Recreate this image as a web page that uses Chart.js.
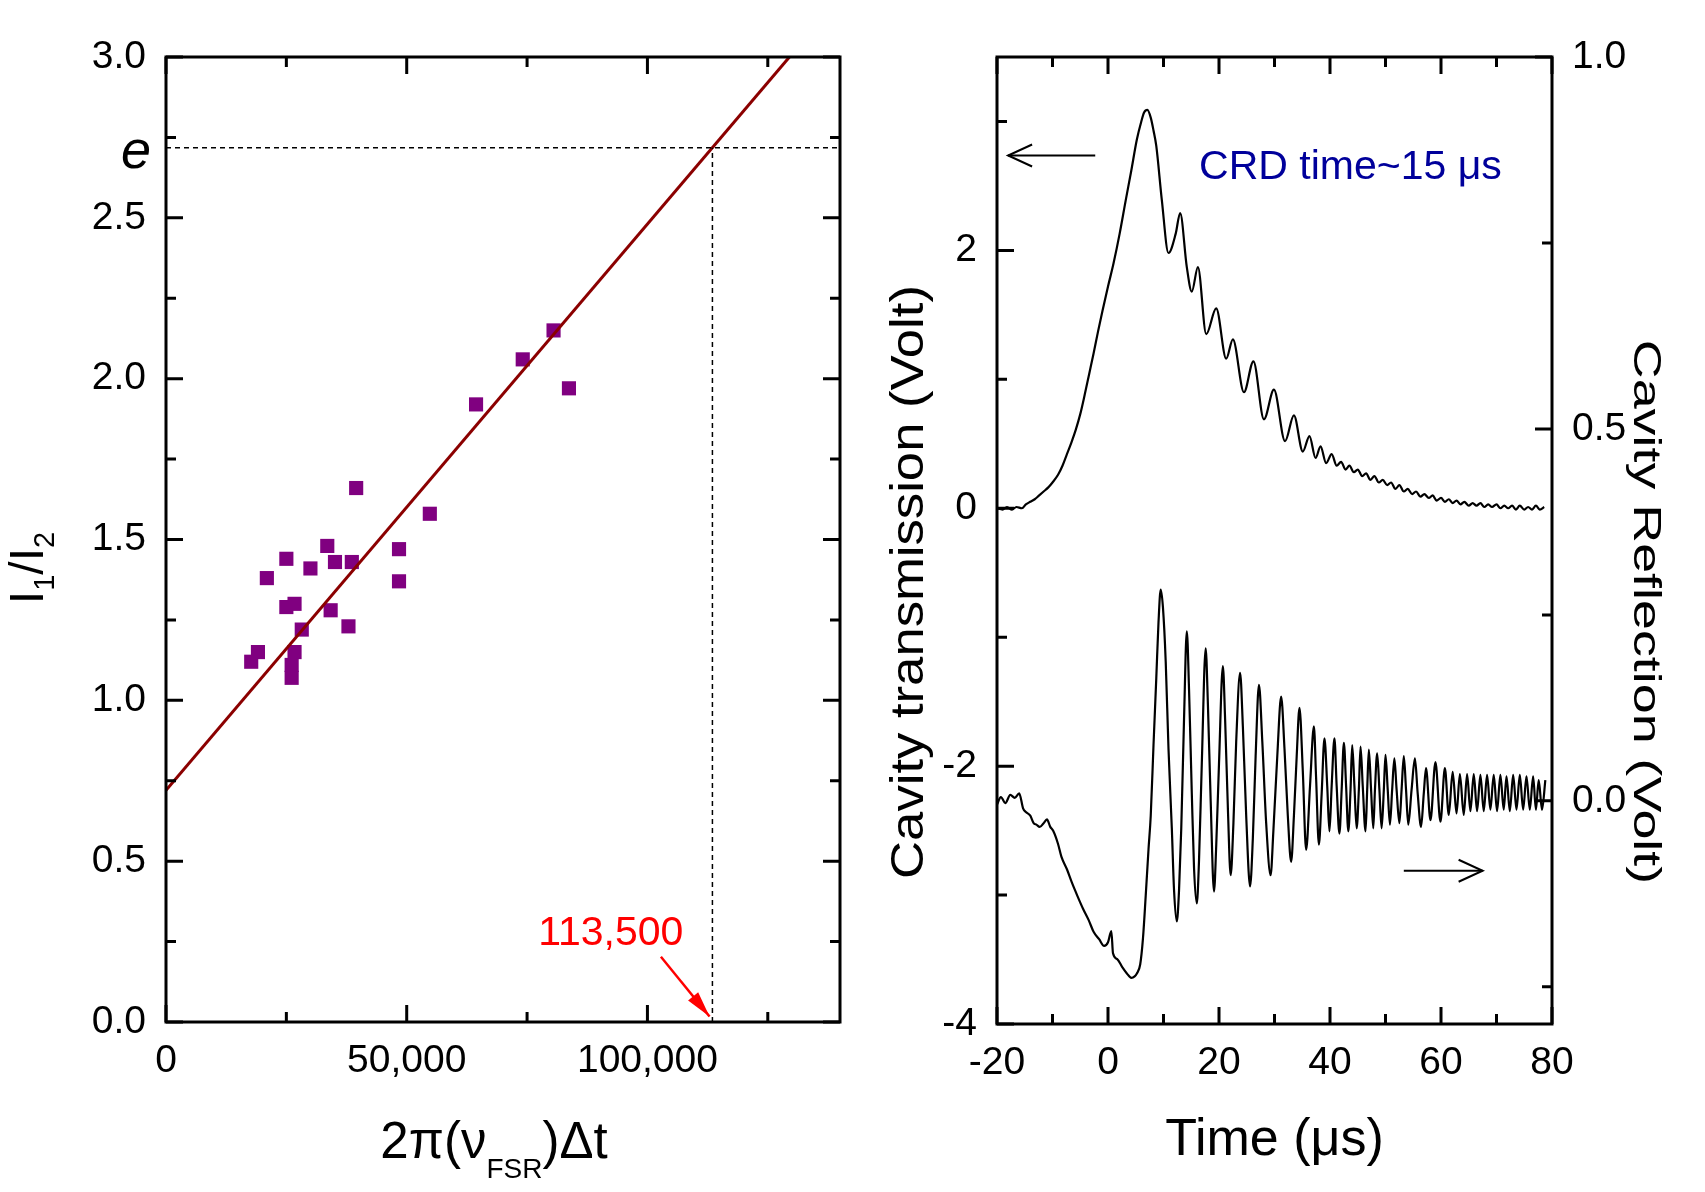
<!DOCTYPE html>
<html>
<head>
<meta charset="utf-8">
<title>Cavity ring-down</title>
<script src="https://cdn.jsdelivr.net/npm/chart.js@4.4.1/dist/chart.umd.min.js"></script>
<style>
  body { margin: 0; background: #fff; }
  canvas { position: absolute; top: 0; }
  #left { left: 0; }
  #right { left: 850px; }
</style>
</head>
<body>
<canvas id="left" width="850" height="1192"></canvas>
<canvas id="right" width="855" height="1192"></canvas>
<script>
// ---- left panel: intensity ratio vs 2*pi*nu_FSR*dt ----
const ratioX = [17700, 19100, 20950, 25000, 25000, 26700, 26700, 26100, 26100, 28200, 30000, 33500,
                35100, 34200, 38600, 37900, 39500, 48400, 48400, 54800, 64400, 74100, 80500, 83700];
const ratioY = [1.12, 1.15, 1.38, 1.44, 1.29, 1.30, 1.15, 1.11, 1.07, 1.22, 1.41, 1.48,
                1.43, 1.28, 1.43, 1.23, 1.66, 1.47, 1.37, 1.58, 1.92, 2.06, 2.15, 1.97];
const fitX = [0, 129500];
const fitY = [0.72, 3.0];
const eLineX = [0, 140000];
const eLineY = [2.718, 2.718];
const crossX = [113500, 113500];
const crossY = [0, 2.718];
const markArrowX = [102800, 112900];
const markArrowY = [0.203, 0.017];
const ratioXTicks = [0, 50000, 100000];
const ratioYTicks = [0, 0.5, 1.0, 1.5, 2.0, 2.5, 3.0];

// ---- right panel: transmission (left axis) and reflection (right axis) ----
const transT = [-20.0, -19.0, -18.2, -17.3, -16.5, -15.5, -14.8, -14.0, -13.2, -12.4, -11.6, -10.8,
  -10.0, -9.0, -8.2, -7.4, -6.6, -5.8, -5.0, -4.2, -3.4, -2.6, -1.8, -1.0, 0.0, 1.0, 2.1, 3.2, 4.2,
  5.2, 6.0, 6.5, 7.1, 7.7, 8.2, 8.7, 9.7, 10.9, 12.2, 13.0, 14.2, 15.1, 16.2, 17.7, 19.5, 21.3, 22.5,
  24.5, 26.2, 28.1, 29.9, 31.9, 33.5, 35.1, 36.3, 37.4, 38.3, 39.3, 40.3, 41.2, 42.0, 42.8, 43.5,
  44.3, 45.0, 45.8, 46.5, 47.3, 48.0, 48.8, 49.5, 50.3, 51.0, 51.8, 52.5, 53.3, 54.0, 54.8, 55.5,
  56.3, 57.0, 57.8, 58.5, 59.2, 60.0, 60.7, 61.4, 62.1, 62.8, 63.5, 64.2, 65.0, 65.7, 66.4, 67.1,
  67.8, 68.5, 69.2, 70.0, 70.7, 71.4, 72.1, 72.8, 73.5, 74.2, 75.0, 75.7, 76.4, 77.1, 77.8, 78.6];
const transV = [0.00, -0.01, 0.01, -0.01, 0.01, 0.00, 0.03, 0.05, 0.07, 0.10, 0.13, 0.16,
  0.20, 0.26, 0.33, 0.42, 0.51, 0.61, 0.73, 0.88, 1.04, 1.20, 1.37, 1.53, 1.72, 1.90, 2.13, 2.39, 2.62,
  2.86, 3.00, 3.07, 3.09, 3.03, 2.93, 2.81, 2.39, 1.98, 2.13, 2.29, 1.87, 1.68, 1.87, 1.35, 1.55, 1.16, 1.31,
  0.90, 1.14, 0.69, 0.92, 0.52, 0.72, 0.44, 0.56, 0.39, 0.48, 0.35, 0.42, 0.33, 0.36, 0.30, 0.33,
  0.28, 0.30, 0.25, 0.27, 0.22, 0.25, 0.20, 0.22, 0.18, 0.20, 0.15, 0.18, 0.13, 0.15, 0.11, 0.13,
  0.09, 0.11, 0.08, 0.10, 0.06, 0.08, 0.05, 0.07, 0.04, 0.06, 0.03, 0.05, 0.02, 0.04, 0.02, 0.04,
  0.01, 0.03, 0.01, 0.03, 0.00, 0.02, 0.00, 0.02, -0.01, 0.02, -0.01, 0.01, -0.01, 0.02, -0.01, 0.01];

const reflT = [-20.0, -19.3, -18.5, -17.6, -16.8, -16.0, -15.3, -14.8, -14.0, -13.4, -12.9, -12.3,
  -11.6, -11.0, -10.4, -9.9, -9.0, -8.4, -7.4, -6.5, -5.5, -4.5, -3.5, -2.6, -1.6, -0.7, 0.0, 0.6,
  0.9, 1.7, 2.6, 3.4, 4.2, 4.8, 5.2, 5.8, 6.3, 6.8, 7.3, 7.7, 8.2, 8.7, 9.1, 9.5, 9.9, 10.4, 10.9,
  11.5, 11.9, 12.4, 12.8, 13.2, 13.7, 14.2, 14.6, 15.1, 15.5, 16.0, 16.4, 16.9, 17.6, 18.0, 18.5,
  19.1, 19.5, 20.0, 20.7, 21.1, 21.6, 22.1, 22.6, 23.1, 23.8, 24.3, 24.9, 25.6, 26.1, 26.6, 27.2,
  27.8, 28.5, 29.3, 29.8, 30.5, 31.2, 31.8, 32.4, 33.0, 33.5, 34.0, 34.5, 35.1, 35.7, 36.4, 37.1,
  37.5, 38.0, 38.5, 39.0, 39.5, 39.9, 40.3, 40.8, 41.2, 41.7, 42.1, 42.5, 42.9, 43.3, 43.7, 44.0,
  44.4, 44.8, 45.2, 45.5, 45.9, 46.4, 46.7, 47.0, 47.4, 47.8, 48.1, 48.5, 48.9, 49.3, 49.7, 50.0,
  50.4, 50.8, 51.2, 51.6, 52.0, 52.5, 52.9, 53.3, 53.7, 54.1, 54.7, 55.3, 55.8, 56.4, 56.9, 57.3,
  58.1, 59.0, 59.9, 60.7, 61.4, 62.1, 62.8, 63.4, 64.1, 64.7, 65.3, 65.9, 66.5, 67.1, 67.7, 68.3,
  68.9, 69.5, 70.1, 70.7, 71.3, 71.8, 72.4, 73.0, 73.6, 74.2, 74.8, 75.4, 76.0, 76.6, 77.1, 77.6,
  78.2, 78.8];
const reflV = [-0.005, 0.005, -0.003, 0.008, 0.004, 0.010, -0.010, -0.015, -0.020, -0.030, -0.032, -0.035,
  -0.030, -0.025, -0.035, -0.040, -0.058, -0.075, -0.092, -0.110, -0.128, -0.145, -0.160, -0.176, -0.186, -0.195, -0.190, -0.175,
  -0.205, -0.213, -0.224, -0.232, -0.238, -0.236, -0.232, -0.220, -0.185, -0.127, -0.065, -0.020, 0.075, 0.165, 0.240, 0.284, 0.260, 0.187, 0.070,
  -0.037, -0.120, -0.162, -0.120, -0.037, 0.110, 0.228, 0.150, 0.010, -0.090, -0.138, -0.080, 0.050, 0.205, 0.130, 0.000,
  -0.122, -0.060, 0.050, 0.181, 0.110, -0.010, -0.100, -0.030, 0.080, 0.172, 0.100, -0.020, -0.115, -0.050, 0.060, 0.156,
  0.080, -0.030, -0.100, -0.040, 0.060, 0.140, 0.070, -0.020, -0.082, -0.020, 0.060, 0.125, 0.040, -0.066, 0.020, 0.100,
  0.030, -0.059, 0.010, 0.084, 0.020, -0.041, 0.020, 0.084, 0.020, -0.044, 0.015, 0.078, 0.020, -0.041, 0.015, 0.075,
  0.020, -0.037, 0.015, 0.073, 0.020, -0.041, 0.015, 0.069, 0.015, -0.037, 0.015, 0.064, 0.015, -0.037, 0.015, 0.062,
  0.015, -0.032, 0.015, 0.057, 0.015, -0.030, 0.015, 0.060, 0.015, -0.032, 0.015, 0.057, 0.010, -0.035, 0.010, 0.044,
  -0.026, 0.052, -0.028, 0.044, -0.019, 0.039, -0.017, 0.036, -0.019, 0.036, -0.014, 0.036, -0.014, 0.035, -0.014, 0.035,
  -0.012, 0.035, -0.014, 0.035, -0.012, 0.033, -0.014, 0.035, -0.012, 0.035, -0.012, 0.033, -0.012, 0.033, -0.012, 0.028,
  -0.012, 0.028];
const transArrowT = [-2.3, -18.0];
const transArrowV = [2.736, 2.736];
const reflArrowT = [53.3, 67.5];
const reflArrowV = [-0.094, -0.094];
const timeTicks = [-20, 0, 20, 40, 60, 80];
const transTicks = [-4, -2, 0, 2];
const reflTicks = [0, 0.5, 1.0];

const FONT = "'Liberation Sans', Arial, Helvetica, sans-serif";

function pts(xs, ys) {
  return xs.map((x, i) => ({ x: x, y: ys[i] }));
}
function fixedTicks(values) {
  return axis => { axis.ticks = values.map(v => ({ value: v })); };
}

// text made of runs, so subscripts can be drawn; stretch widens along the reading direction
function drawRuns(ctx, runs, x, y, align, angle, stretch) {
  ctx.save();
  ctx.translate(x, y);
  ctx.rotate(angle || 0);
  ctx.scale(stretch || 1, 1);
  let total = 0;
  runs.forEach(r => {
    ctx.font = (r.style || '') + ' ' + r.size + 'px ' + FONT;
    r.w = ctx.measureText(r.text).width;
    total += r.w;
  });
  let cx = align === 'center' ? -total / 2 : align === 'right' ? -total : 0;
  ctx.textAlign = 'left';
  ctx.textBaseline = 'alphabetic';
  runs.forEach(r => {
    ctx.font = (r.style || '') + ' ' + r.size + 'px ' + FONT;
    ctx.fillStyle = r.color || '#000';
    ctx.fillText(r.text, cx, r.dy || 0);
    cx += r.w;
  });
  ctx.restore();
}

// frame, inward ticks, arrow heads and labels
function overlay(spec) {
  return {
    id: 'overlay',
    afterDatasetsDraw(chart) {
      const ctx = chart.ctx, a = chart.chartArea;
      ctx.save();
      ctx.strokeStyle = '#000';
      ctx.lineWidth = 3;
      ctx.strokeRect(a.left, a.top, a.right - a.left, a.bottom - a.top);
      ctx.beginPath();
      spec.ticks.forEach(t => {
        const s = chart.scales[t.scale];
        const start = Math.ceil(s.min / t.minor - 1e-9) * t.minor;
        const n = Math.floor((s.max - start) / t.minor + 1e-9);
        for (let i = 0; i <= n; i++) {
          const v = start + i * t.minor;
          const major = Math.abs(v / t.major - Math.round(v / t.major)) < 1e-6;
          const len = major ? 17 : 10;
          const p = s.getPixelForValue(v);
          t.sides.forEach(side => {
            if (side === 'left') { ctx.moveTo(a.left, p); ctx.lineTo(a.left + len, p); }
            if (side === 'right') { ctx.moveTo(a.right, p); ctx.lineTo(a.right - len, p); }
            if (side === 'bottom') { ctx.moveTo(p, a.bottom); ctx.lineTo(p, a.bottom - len); }
            if (side === 'top') { ctx.moveTo(p, a.top); ctx.lineTo(p, a.top + len); }
          });
        }
      });
      ctx.stroke();

      spec.arrows.forEach(ar => {
        const sx = chart.scales.x, sy = chart.scales[ar.yAxis];
        const x0 = sx.getPixelForValue(ar.xs[0]), y0 = sy.getPixelForValue(ar.ys[0]);
        const x1 = sx.getPixelForValue(ar.xs[1]), y1 = sy.getPixelForValue(ar.ys[1]);
        const ang = Math.atan2(y1 - y0, x1 - x0);
        ctx.save();
        ctx.translate(x1, y1);
        ctx.rotate(ang);
        ctx.strokeStyle = ar.color;
        ctx.fillStyle = ar.color;
        if (ar.filled) {
          ctx.beginPath();
          ctx.moveTo(0, 0);
          ctx.lineTo(-26, -6.5);
          ctx.lineTo(-26, 6.5);
          ctx.closePath();
          ctx.fill();
        } else {
          ctx.lineWidth = 2;
          ctx.beginPath();
          ctx.moveTo(-24, -11);
          ctx.lineTo(0, 0);
          ctx.lineTo(-24, 11);
          ctx.stroke();
        }
        ctx.restore();
      });

      spec.labels.forEach(l => {
        let x = l.x, y = l.y;
        if (l.data) {
          x = chart.scales.x.getPixelForValue(l.data[0]);
          y = chart.scales[l.yAxis].getPixelForValue(l.data[1]);
        }
        drawRuns(ctx, l.runs, x + (l.dx || 0), y + (l.dy || 0), l.align, l.angle, l.stretch);
      });
      ctx.restore();
    }
  };
}

const tickFont = { family: FONT, size: 39 };
const noGrid = { display: false, drawTicks: false };

new Chart(document.getElementById('left'), {
  type: 'scatter',
  data: {
    datasets: [
      { data: pts(eLineX, eLineY), showLine: true, borderColor: '#000', borderWidth: 1.5,
        borderDash: [5, 4], pointRadius: 0 },
      { data: pts(crossX, crossY), showLine: true, borderColor: '#000', borderWidth: 1.5,
        borderDash: [5, 4], pointRadius: 0 },
      { data: pts(fitX, fitY), showLine: true, borderColor: '#8b0000', borderWidth: 3, pointRadius: 0 },
      { data: pts(ratioX, ratioY), pointStyle: 'rect', pointRadius: 10, borderWidth: 0,
        backgroundColor: '#800080' },
      { data: pts(markArrowX, markArrowY), showLine: true, borderColor: '#ff0000', borderWidth: 2.5,
        pointRadius: 0 }
    ]
  },
  options: {
    responsive: false,
    animation: false,
    devicePixelRatio: 1,
    layout: { padding: { top: 57, right: 7 } },
    plugins: { legend: { display: false }, tooltip: { enabled: false } },
    scales: {
      x: {
        type: 'linear', position: 'bottom', min: 0, max: 140000,
        grid: noGrid, border: { display: false },
        afterBuildTicks: fixedTicks(ratioXTicks),
        afterFit: axis => { axis.height = 170; },
        ticks: { font: tickFont, color: '#000', padding: 16, maxRotation: 0, autoSkip: false,
                 callback: v => v.toLocaleString('en-US') }
      },
      y: {
        type: 'linear', position: 'left', min: 0, max: 3.0,
        grid: noGrid, border: { display: false },
        afterBuildTicks: fixedTicks(ratioYTicks),
        afterFit: axis => { axis.width = 166; },
        ticks: { font: tickFont, color: '#000', padding: 20, autoSkip: false,
                 callback: v => Number(v).toFixed(1) }
      }
    }
  },
  plugins: [overlay({
    ticks: [
      { scale: 'x', major: 50000, minor: 25000, sides: ['bottom', 'top'] },
      { scale: 'y', major: 0.5, minor: 0.25, sides: ['left', 'right'] }
    ],
    arrows: [{ xs: markArrowX, ys: markArrowY, yAxis: 'y', color: '#ff0000', filled: true }],
    labels: [
      { runs: [{ text: 'I', size: 48 }, { text: '1', size: 29, dy: 11 },
               { text: '/I', size: 48 }, { text: '2', size: 29, dy: 11 }],
        x: 43, y: 568, align: 'center', angle: -Math.PI / 2 },
      { runs: [{ text: '2\u03c0(\u03bd', size: 51 }, { text: 'FSR', size: 28, dy: 20 },
               { text: ')\u0394t', size: 51 }],
        x: 494, y: 1158, align: 'center' },
      { runs: [{ text: 'e', size: 54, style: 'italic' }],
        data: [0, 2.718], yAxis: 'y', dx: -15, dy: 20, align: 'right' },
      { runs: [{ text: '113,500', size: 41, color: '#ff0000' }],
        data: [77300, 0.239], yAxis: 'y', align: 'left' }
    ]
  })]
});

new Chart(document.getElementById('right'), {
  type: 'scatter',
  data: {
    datasets: [
      { data: pts(transT, transV), yAxisID: 'y', showLine: true, borderColor: '#000', borderWidth: 2.2,
        pointRadius: 0, cubicInterpolationMode: 'monotone' },
      { data: pts(reflT, reflV), yAxisID: 'y2', showLine: true, borderColor: '#000', borderWidth: 2.2,
        pointRadius: 0, cubicInterpolationMode: 'monotone' },
      { data: pts(transArrowT, transArrowV), yAxisID: 'y', showLine: true, borderColor: '#000',
        borderWidth: 2, pointRadius: 0 },
      { data: pts(reflArrowT, reflArrowV), yAxisID: 'y2', showLine: true, borderColor: '#000',
        borderWidth: 2, pointRadius: 0 }
    ]
  },
  options: {
    responsive: false,
    animation: false,
    devicePixelRatio: 1,
    layout: { padding: { top: 57 } },
    plugins: { legend: { display: false }, tooltip: { enabled: false } },
    scales: {
      x: {
        type: 'linear', position: 'bottom', min: -20, max: 80,
        grid: noGrid, border: { display: false },
        afterBuildTicks: fixedTicks(timeTicks),
        afterFit: axis => { axis.height = 168; },
        ticks: { font: tickFont, color: '#000', padding: 16, maxRotation: 0, autoSkip: false,
                 callback: v => String(v) }
      },
      y: {
        type: 'linear', position: 'left', min: -4, max: 3.5,
        grid: noGrid, border: { display: false },
        afterBuildTicks: fixedTicks(transTicks),
        afterFit: axis => { axis.width = 147; },
        ticks: { font: tickFont, color: '#000', padding: 20, autoSkip: false,
                 callback: v => String(v) }
      },
      y2: {
        type: 'linear', position: 'right', min: -0.3, max: 1.0,
        grid: noGrid, border: { display: false },
        afterBuildTicks: fixedTicks(reflTicks),
        afterFit: axis => { axis.width = 153; },
        ticks: { font: tickFont, color: '#000', padding: 20, autoSkip: false,
                 callback: v => Number(v).toFixed(1) }
      }
    }
  },
  plugins: [overlay({
    ticks: [
      { scale: 'x', major: 20, minor: 10, sides: ['bottom', 'top'] },
      { scale: 'y', major: 2, minor: 1, sides: ['left'] },
      { scale: 'y2', major: 0.5, minor: 0.25, sides: ['right'] }
    ],
    arrows: [
      { xs: transArrowT, ys: transArrowV, yAxis: 'y', color: '#000', filled: false },
      { xs: reflArrowT, ys: reflArrowV, yAxis: 'y2', color: '#000', filled: false }
    ],
    labels: [
      { runs: [{ text: 'Time (\u03bcs)', size: 52 }], x: 424.5, y: 1155, align: 'center' },
      { runs: [{ text: 'Cavity transmission (Volt)', size: 47 }],
        x: 73, y: 582, align: 'center', angle: -Math.PI / 2, stretch: 1.12 },
      { runs: [{ text: 'Cavity Reflection (Volt)', size: 39 }],
        x: 784, y: 612, align: 'center', angle: Math.PI / 2, stretch: 1.38 },
      { runs: [{ text: 'CRD time~15 \u03bcs', size: 41, color: '#00009b' }],
        data: [16.4, 2.55], yAxis: 'y', align: 'left' }
    ]
  })]
});
</script>
</body>
</html>
